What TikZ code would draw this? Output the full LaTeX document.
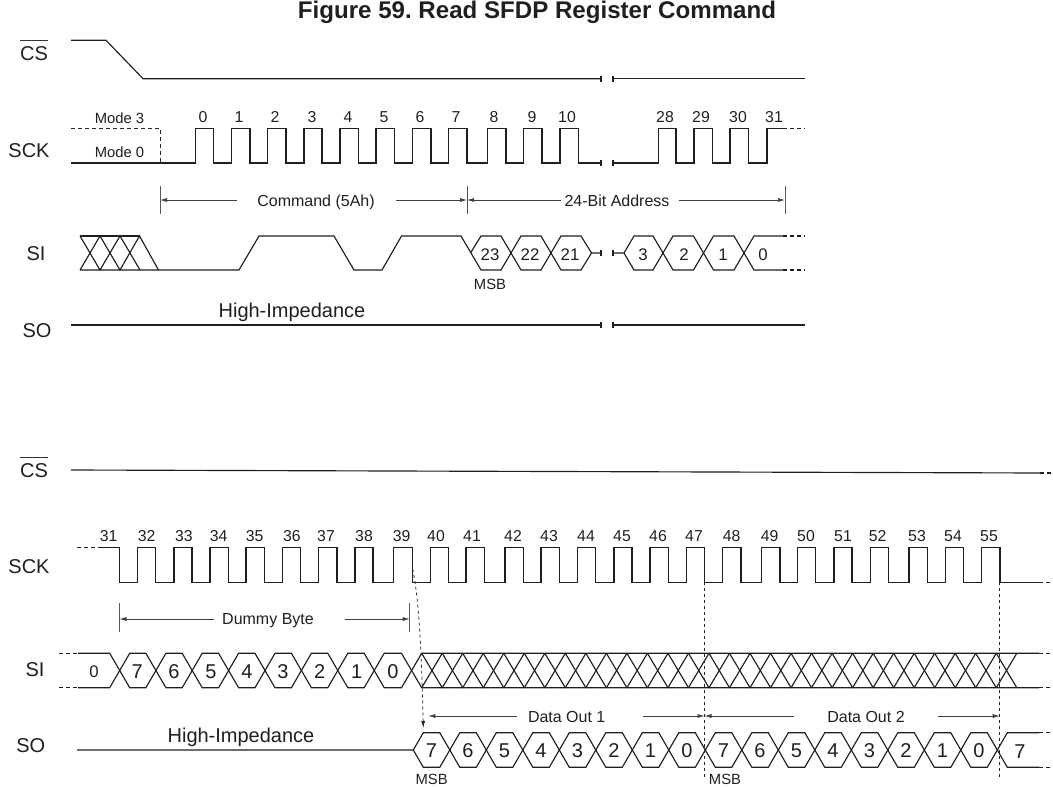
\documentclass[tikz,border=0pt]{standalone}
\usepackage{fontspec}
\setmainfont{Liberation Sans}
\usetikzlibrary{arrows.meta}
\frenchspacing
\begin{document}
\begin{tikzpicture}[
  x=1pt, y=-1pt,
  line join=miter,
  wave/.style={line width=1.15pt, draw=black!88},
  cont/.style={wave, dash pattern=on 4pt off 3pt},
  guide/.style={line width=0.75pt, draw=black!85, dash pattern=on 3pt off 3pt},
  span/.style={line width=0.7pt, draw=black!65},
  spanto/.style={span, -{Latex[length=7pt,width=4pt]}, draw=black!75},
  txt/.style={inner sep=0pt, text depth=0pt, text=black!88},
  signal/.style={txt, text height=14.3pt, font=\fontsize{20}{22}\selectfont},
  tick/.style={txt, text height=11.3pt, font=\fontsize{15.8}{18}\selectfont},
  bit/.style={txt, text height=12pt, font=\fontsize{16.8}{18}\selectfont},
  bitlg/.style={txt, text height=14.3pt, font=\fontsize{20}{22}\selectfont},
  small/.style={txt, text height=10.6pt, font=\fontsize{14.8}{17}\selectfont},
  dim/.style={txt, text height=11.5pt, font=\fontsize{16}{18}\selectfont}
]
\useasboundingbox (0,0) rectangle (1053,787);
\node[txt, text height=17pt, font=\bfseries\fontsize{24.1}{27}\selectfont] (title) at (537,10) {Figure 59. Read SFDP Register Command};
\def\csY{78.7}
\def\ckH{128.3}
\def\ckL{163}
\def\siH{236}
\def\siL{270}
\def\siM{253}
\def\soY{325}
%% upper part
\node[signal] (cs1) at (34,53) {CS};
\node[signal] (sck1) at (29,150) {SCK};
\node[signal] (si1) at (36,253) {SI};
\node[signal] (so1) at (37,330) {SO};
\draw[line width=0.9pt, draw=black!80] ([yshift=5.5pt]cs1.north west) -- ([yshift=5.5pt]cs1.north east);
\draw[wave] (71,40.3) -- (106,40.3) -- (143,\csY) -- (601,\csY);
\draw[wave] (601,\csY-3) -- (601,\csY+3);
\draw[wave] (613,\csY-3) -- (613,\csY+3);
\draw[wave] (613,\csY) -- (805,\csY);
\node[small] (m3) at (119.5,118) {Mode 3};
\node[small] (m0) at (119.5,152) {Mode 0};
\draw[line width=0.9pt, draw=black!85, dash pattern=on 4pt off 3pt] (71,\ckH) -- (160,\ckH) -- (160,\ckL);
\draw[wave] (71,\ckL) -| (195.6,\ckH) -| (213.5,\ckL) -| (231.7,\ckH) -| (250,\ckL)
  -| (267.7,\ckH) -| (286,\ckL) -| (304,\ckH) -| (322,\ckL) -| (340,\ckH) -| (358.5,\ckL)
  -| (376,\ckH) -| (394.5,\ckL) -| (412.3,\ckH) -| (431,\ckL) -| (448.5,\ckH) -| (467,\ckL)
  -| (487.7,\ckH) -| (506,\ckL) -| (523.7,\ckH) -| (542,\ckL) -| (560,\ckH) -| (578.5,\ckL)
  -- (601,\ckL);
\draw[wave] (601,\ckL-3) -- (601,\ckL+3);
\draw[wave] (613,\ckL-3) -- (613,\ckL+3);
\draw[wave] (613,\ckL) -| (658.3,\ckH) -| (676,\ckL) -| (694,\ckH) -| (712.5,\ckL)
  -| (730,\ckH) -| (748.5,\ckL) -| (767,\ckH) -- (783,\ckH);
\draw[cont] (783,\ckH) -- (805,\ckH);
\node[tick] (t0) at (203,117) {0};
\node[tick] (t1) at (239,117) {1};
\node[tick] (t2) at (275,117) {2};
\node[tick] (t3) at (312,117) {3};
\node[tick] (t4) at (348,117) {4};
\node[tick] (t5) at (384,117) {5};
\node[tick] (t6) at (420,117) {6};
\node[tick] (t7) at (456,117) {7};
\node[tick] (t8) at (494,117) {8};
\node[tick] (t9) at (532,117) {9};
\node[tick] (t10) at (567,117) {10};
\node[tick] (t28) at (665,117) {28};
\node[tick] (t29) at (701,117) {29};
\node[tick] (t30) at (738,117) {30};
\node[tick] (t31) at (774,117) {31};
\draw[span] (160,185.5) -- (160,214);
\draw[span] (467,185.5) -- (467,214);
\draw[span] (785,185.5) -- (785,214);
\node[dim] (cmd) at (316,200.5) {Command (5Ah)};
\node[dim] (addr) at (617,200.5) {24-Bit Address};
\coordinate (cmdA) at (237,200);
\coordinate (cmdB) at (396,200);
\coordinate (addrA) at (561,200);
\coordinate (addrB) at (679,200);
\draw[spanto] (cmdA) -- (160,200);
\draw[spanto] (cmdB) -- (467,200);
\draw[spanto] (addrA) -- (467,200);
\draw[spanto] (addrB) -- (785,200);
\draw[wave] (80,\siH) -- (100,\siL) -- (120,\siH) -- (140,\siL);
\draw[wave] (80,\siL) -- (100,\siH) -- (120,\siL) -- (139.5,\siH) -- (158.5,\siL);
\draw[wave] (80,\siH) -- (139.5,\siH);
\draw[wave] (80,\siL) -- (158.5,\siL) -- (239,\siL) -- (259,\siH) -- (334,\siH) -- (354,\siL)
  -- (382,\siL) -- (401.5,\siH) -- (461,\siH) -- (481,\siL) -- (501,\siL) -- (521,\siH)
  -- (541,\siH) -- (561,\siL) -- (581,\siL) -- (591.5,\siM) -- (601,\siM);
\draw[wave] (470.5,\siM) -- (481,\siH) -- (501,\siH) -- (521,\siL) -- (541,\siL) -- (561,\siH)
  -- (581,\siH) -- (591.5,\siM);
\draw[wave] (601,\siM-3) -- (601,\siM+3);
\draw[wave] (613,\siM-3) -- (613,\siM+3);
\draw[wave] (613,\siM) -- (624,\siM) -- (634,\siH) -- (653,\siH) -- (673,\siL) -- (693.5,\siL)
  -- (713.5,\siH) -- (734,\siH) -- (754,\siL) -- (783,\siL);
\draw[wave] (624,\siM) -- (634,\siL) -- (653,\siL) -- (673,\siH) -- (693.5,\siH)
  -- (713.5,\siL) -- (734,\siL) -- (754,\siH) -- (783,\siH);
\draw[cont] (783,\siH) -- (805,\siH);
\draw[cont] (783,\siL) -- (805,\siL);
\node[bit] (a23) at (490,254) {23};
\node[bit] (a22) at (530,254) {22};
\node[bit] (a21) at (570,254) {21};
\node[bit] (a3) at (643,254) {3};
\node[bit] (a2) at (684,254) {2};
\node[bit] (a1) at (723,254) {1};
\node[bit] (a0) at (763,254) {0};
\node[small] (msb1) at (490,284) {MSB};
\node[signal] (hiz1) at (292,310) {High-Impedance};
\draw[wave] (71,\soY) -- (601,\soY);
\draw[wave] (601,\soY-3) -- (601,\soY+3);
\draw[wave] (613,\soY-3) -- (613,\soY+3);
\draw[wave] (613,\soY) -- (805,\soY);
%% lower part
\def\ckH{547.7}
\def\ckL{582.3}
\def\siH{653.3}
\def\siL{687.7}
\def\soH{732.7}
\def\soL{767.3}
\node[signal] (cs2) at (34,470) {CS};
\node[signal] (sck2) at (29,566.7) {SCK};
\node[signal] (si2) at (35,669) {SI};
\node[signal] (so2) at (30.7,745) {SO};
\draw[line width=0.9pt, draw=black!80] ([yshift=5.5pt]cs2.north west) -- ([yshift=5.5pt]cs2.north east);
\draw[wave] (71,470) -- (1040,473);
\draw[cont] (1040,473) -- (1053,473);
\draw[cont] (77,\ckH) -- (102,\ckH);
\draw[wave] (102,\ckH) -| (119.5,\ckL) -| (137.7,\ckH) -| (155.7,\ckL) -| (174,\ckH) -| (192,\ckL)
  -| (210,\ckH) -| (228.7,\ckL) -| (246,\ckH) -| (264.7,\ckL) -| (282.7,\ckH) -| (300.7,\ckL)
  -| (318.7,\ckH) -| (337,\ckL) -| (355,\ckH) -| (373,\ckL) -| (393.5,\ckH) -| (412.5,\ckL)
  -| (430.5,\ckH) -| (448.5,\ckL) -| (466,\ckH) -| (484.3,\ckL) -| (505,\ckH) -| (523.3,\ckL)
  -| (541,\ckH) -| (559.3,\ckL) -| (577.7,\ckH) -| (595.7,\ckL) -| (614,\ckH) -| (632,\ckL)
  -| (650,\ckH) -| (668.3,\ckL) -| (686.5,\ckH) -| (704.5,\ckL) -| (722.7,\ckH) -| (741,\ckL)
  -| (761.7,\ckH) -| (780,\ckL) -| (797.7,\ckH) -| (815.7,\ckL) -| (834,\ckH) -| (852,\ckL)
  -| (870.3,\ckH) -| (888.3,\ckL) -| (909,\ckH) -| (927.3,\ckL) -| (945.3,\ckH) -| (963.7,\ckL)
  -| (981.7,\ckH) -| (1000,\ckL) -- (1039,\ckL);
\draw[cont] (1039,\ckL) -- (1053,\ckL);
\node[tick] (t31b) at (108.7,536) {31};
\node[tick] (t32) at (146.7,536) {32};
\node[tick] (t33) at (184,536) {33};
\node[tick] (t34) at (218.7,536) {34};
\node[tick] (t35) at (254.7,536) {35};
\node[tick] (t36) at (292,536) {36};
\node[tick] (t37) at (326,536) {37};
\node[tick] (t38) at (364,536) {38};
\node[tick] (t39) at (401.7,536) {39};
\node[tick] (t40) at (436,536) {40};
\node[tick] (t41) at (472,536) {41};
\node[tick] (t42) at (513,536) {42};
\node[tick] (t43) at (549,536) {43};
\node[tick] (t44) at (586,536) {44};
\node[tick] (t45) at (622,536) {45};
\node[tick] (t46) at (658,536) {46};
\node[tick] (t47) at (694,536) {47};
\node[tick] (t48) at (731.7,536) {48};
\node[tick] (t49) at (769.7,536) {49};
\node[tick] (t50) at (806,536) {50};
\node[tick] (t51) at (843,536) {51};
\node[tick] (t52) at (877.7,536) {52};
\node[tick] (t53) at (917,536) {53};
\node[tick] (t54) at (953,536) {54};
\node[tick] (t55) at (989,536) {55};
\draw[span] (119.5,603) -- (119.5,632);
\draw[span] (409.7,603) -- (409.7,632);
\node[dim] (dummy) at (268,619) {Dummy Byte};
\node[dim] (out1) at (566.7,716.5) {Data Out 1};
\node[dim] (out2) at (866,716.5) {Data Out 2};
\coordinate (dummyA) at (214,619);
\coordinate (dummyB) at (344.7,619);
\coordinate (out1A) at (516.7,716);
\coordinate (out1B) at (643.3,716);
\coordinate (out2A) at (794.3,716);
\coordinate (out2B) at (938.3,716);
\draw[spanto] (dummyA) -- (119.5,619);
\draw[spanto] (dummyB) -- (409.7,619);
\draw[spanto] (out1A) -- (428.3,716);
\draw[spanto] (out1B) -- (704.5,716);
\draw[spanto] (out2A) -- (704.5,716);
\draw[spanto] (out2B) -- (999.7,716);
\draw[cont] (59,\siH) -- (78,\siH);
\draw[cont] (59,\siL) -- (78,\siL);
\draw[wave] (78,\siH) -- (109.7,\siH) -- (129.7,\siL) -- (145.9,\siL) -- (165.9,\siH) -- (182.2,\siH)
  -- (202.2,\siL) -- (218.6,\siL) -- (238.6,\siH) -- (255,\siH) -- (275,\siL) -- (291.4,\siL)
  -- (311.4,\siH) -- (327.8,\siH) -- (347.8,\siL) -- (364.2,\siL) -- (384.2,\siH) -- (401.5,\siH)
  -- (421.7,\siL) -- (1039,\siL);
\draw[wave] (78,\siL) -- (109.7,\siL) -- (129.7,\siH) -- (145.9,\siH) -- (165.9,\siL) -- (182.2,\siL)
  -- (202.2,\siH) -- (218.6,\siH) -- (238.6,\siL) -- (255,\siL) -- (275,\siH) -- (291.4,\siH)
  -- (311.4,\siL) -- (327.8,\siL) -- (347.8,\siH) -- (364.2,\siH) -- (384.2,\siL) -- (401.5,\siL)
  -- (421.7,\siH) -- (1039,\siH);
\foreach \k in {0,...,28} {
  \draw[wave] ({421.7+20.52*\k},\siH) -- ({421.7+20.52*(\k+1)},\siL);
  \draw[wave] ({421.7+20.52*\k},\siL) -- ({421.7+20.52*(\k+1)},\siH);
}
\draw[cont] (1039,\siH) -- (1053,\siH);
\draw[cont] (1039,\siL) -- (1053,\siL);
\node[bit] (d0a) at (94,671) {0};
\node[bitlg] (d7) at (137.3,671) {7};
\node[bitlg] (d6) at (174,671) {6};
\node[bitlg] (d5) at (211,671) {5};
\node[bitlg] (d4) at (247,671) {4};
\node[bitlg] (d3) at (283,671) {3};
\node[bitlg] (d2) at (319.7,671) {2};
\node[bitlg] (d1) at (356.7,671) {1};
\node[bitlg] (d0) at (393,671) {0};
\node[signal] (hiz2) at (241,735) {High-Impedance};
\draw[wave] (77,750) -- (413.3,750) -- (423.3,\soH) -- (439.8,\soH) -- (459.8,\soL) -- (476.3,\soL)
  -- (496.3,\soH) -- (512.8,\soH) -- (532.8,\soL) -- (549.3,\soL) -- (569.3,\soH) -- (585.8,\soH)
  -- (605.8,\soL) -- (622.3,\soL) -- (642.3,\soH) -- (658.8,\soH) -- (678.8,\soL) -- (695.3,\soL)
  -- (715.3,\soH) -- (731.8,\soH) -- (751.8,\soL) -- (768.3,\soL) -- (788.3,\soH) -- (804.8,\soH)
  -- (824.8,\soL) -- (841.3,\soL) -- (861.3,\soH) -- (877.8,\soH) -- (897.8,\soL) -- (914.3,\soL)
  -- (934.3,\soH) -- (950.8,\soH) -- (970.8,\soL) -- (987.3,\soL) -- (1007.3,\soH) -- (1039,\soH);
\draw[wave] (413.3,750) -- (423.3,\soL) -- (439.8,\soL) -- (459.8,\soH) -- (476.3,\soH)
  -- (496.3,\soL) -- (512.8,\soL) -- (532.8,\soH) -- (549.3,\soH) -- (569.3,\soL) -- (585.8,\soL)
  -- (605.8,\soH) -- (622.3,\soH) -- (642.3,\soL) -- (658.8,\soL) -- (678.8,\soH) -- (695.3,\soH)
  -- (715.3,\soL) -- (731.8,\soL) -- (751.8,\soH) -- (768.3,\soH) -- (788.3,\soL) -- (804.8,\soL)
  -- (824.8,\soH) -- (841.3,\soH) -- (861.3,\soL) -- (877.8,\soL) -- (897.8,\soH) -- (914.3,\soH)
  -- (934.3,\soL) -- (950.8,\soL) -- (970.8,\soH) -- (987.3,\soH) -- (1007.3,\soL) -- (1039,\soL);
\draw[cont] (1039,\soH) -- (1053,\soH);
\draw[cont] (1039,\soL) -- (1053,\soL);
\node[bitlg] (q7) at (431.5,750) {7};
\node[bitlg] (q6) at (468,750) {6};
\node[bitlg] (q5) at (504.5,750) {5};
\node[bitlg] (q4) at (541,750) {4};
\node[bitlg] (q3) at (577.5,750) {3};
\node[bitlg] (q2) at (614,750) {2};
\node[bitlg] (q1) at (650.5,750) {1};
\node[bitlg] (q0) at (687,750) {0};
\node[bitlg] (r7) at (723.5,750) {7};
\node[bitlg] (r6) at (760,750) {6};
\node[bitlg] (r5) at (796.5,750) {5};
\node[bitlg] (r4) at (833,750) {4};
\node[bitlg] (r3) at (869.5,750) {3};
\node[bitlg] (r2) at (906,750) {2};
\node[bitlg] (r1) at (942.5,750) {1};
\node[bitlg] (r0) at (979,750) {0};
\node[bitlg] (s7) at (1020,751) {7};
\node[small] (msb2) at (431.7,779.5) {MSB};
\node[small] (msb3) at (725,779.5) {MSB};
\draw[guide, -{Latex[length=7pt,width=4pt]}] (412.7,569) .. controls (419,600) and (421.5,650) .. (423.3,728);
\draw[guide] (704.5,582.3) -- (704.5,776.7);
\draw[guide] (999.7,582.3) -- (999.7,776.7);
\end{tikzpicture}
\end{document}
